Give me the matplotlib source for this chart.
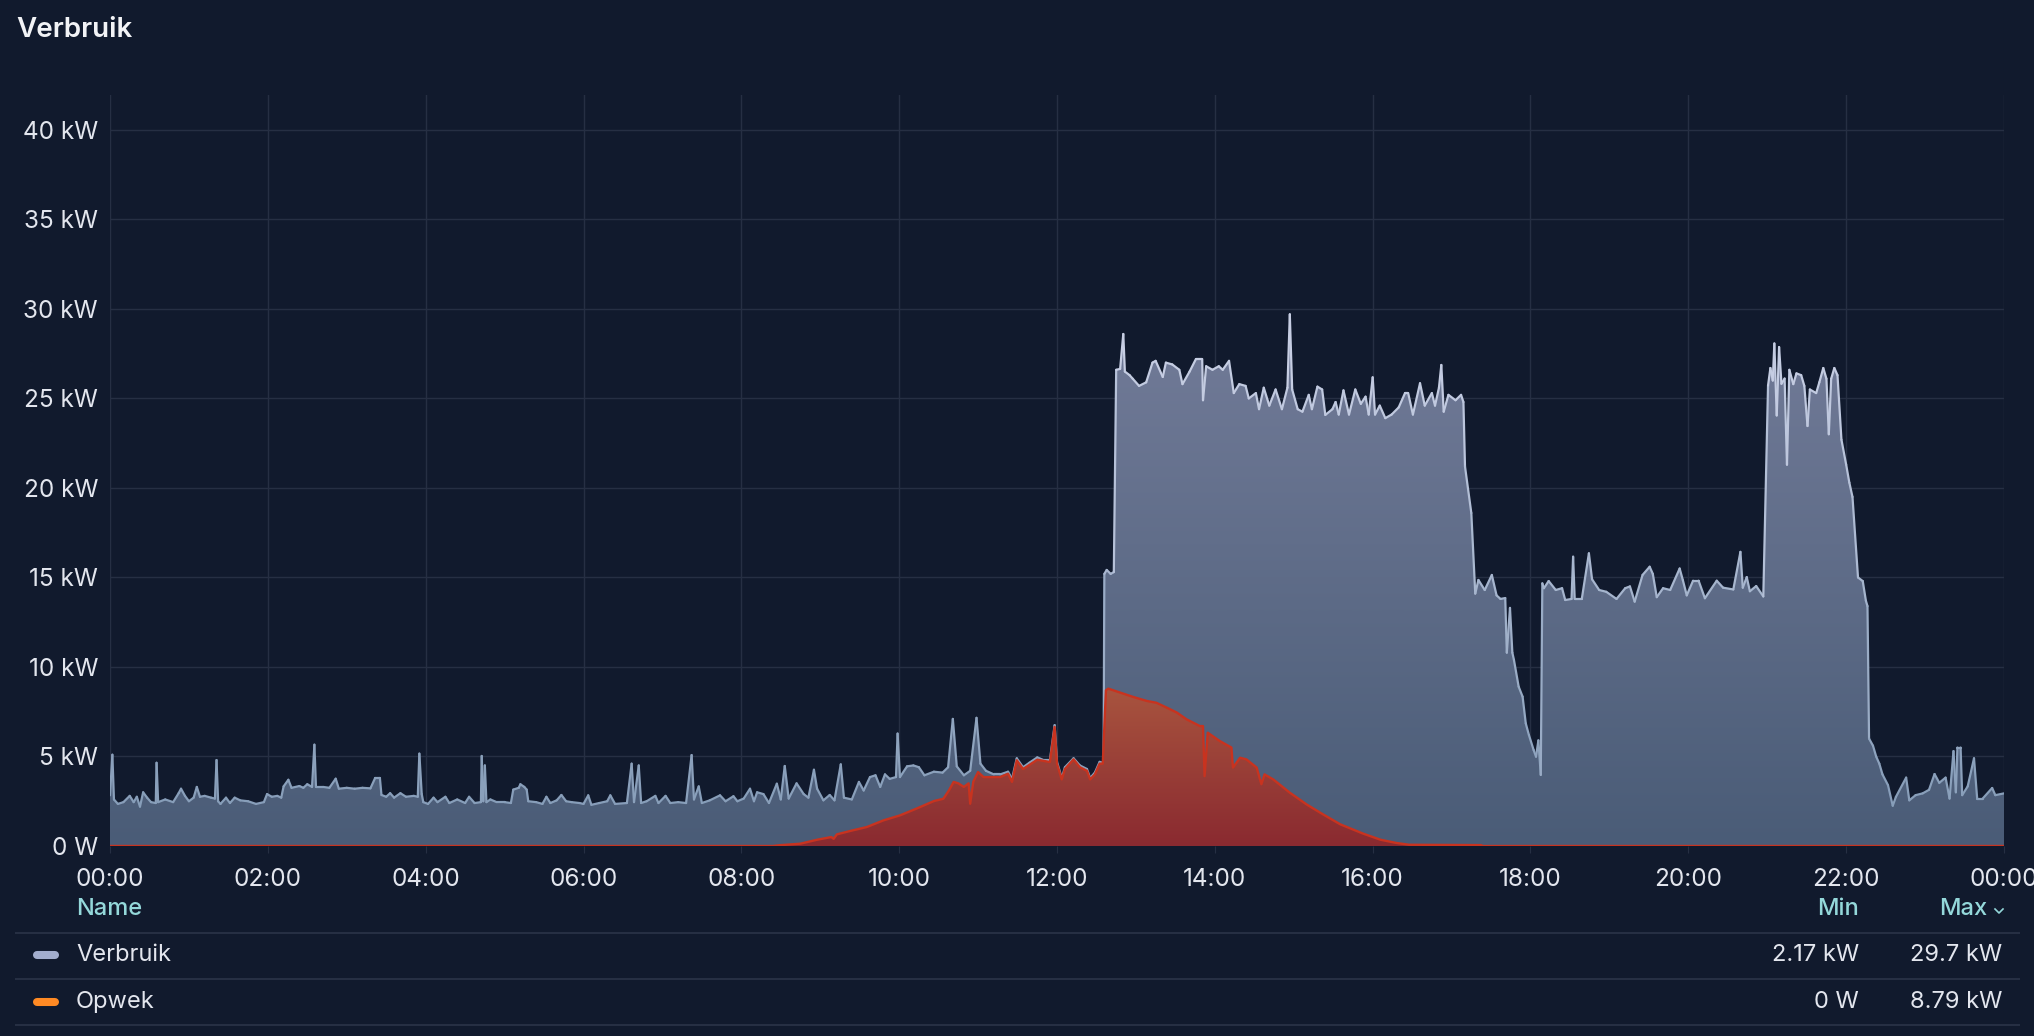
# -*- coding: utf-8 -*-
# Verbruik / Opwek dagverloop (Grafana-achtige weergave)

import numpy as np
import matplotlib
matplotlib.use('Agg')
import matplotlib.pyplot as plt
from matplotlib.colors import LinearSegmentedColormap, Normalize
from matplotlib.collections import LineCollection
from matplotlib.lines import Line2D

plt.rcParams['font.family'] = ['Inter', 'DejaVu Sans']

# ---- data (uur van de dag, kW) ----
verbruik_t = [
    0.00, 0.03, 0.05, 0.10, 0.17, 0.25, 0.30, 0.34, 0.38, 0.42, 0.47, 0.52, 0.58, 0.59, 0.61, 0.70,
    0.80, 0.87, 0.90, 0.95, 1.00, 1.06, 1.10, 1.14, 1.20, 1.28, 1.33, 1.35, 1.37, 1.40, 1.47, 1.52,
    1.58, 1.65, 1.75, 1.85, 1.95, 1.99, 2.05, 2.12, 2.17, 2.20, 2.26, 2.30, 2.40, 2.45, 2.50, 2.56,
    2.59, 2.61, 2.70, 2.78, 2.86, 2.90, 3.00, 3.10, 3.20, 3.30, 3.36, 3.42, 3.44, 3.50, 3.55, 3.60,
    3.68, 3.75, 3.85, 3.90, 3.92, 3.95, 3.97, 4.03, 4.10, 4.15, 4.25, 4.30, 4.40, 4.50, 4.55, 4.62,
    4.70, 4.71, 4.73, 4.75, 4.77, 4.82, 4.90, 5.00, 5.08, 5.11, 5.18, 5.20, 5.25, 5.28, 5.30, 5.40,
    5.48, 5.53, 5.58, 5.66, 5.72, 5.78, 5.85, 5.95, 6.00, 6.06, 6.10, 6.20, 6.30, 6.34, 6.40, 6.55,
    6.61, 6.64, 6.70, 6.73, 6.80, 6.91, 6.95, 7.04, 7.10, 7.20, 7.30, 7.37, 7.40, 7.46, 7.50, 7.60,
    7.73, 7.80, 7.90, 7.95, 8.03, 8.11, 8.16, 8.20, 8.28, 8.35, 8.45, 8.50, 8.55, 8.60, 8.70, 8.79,
    8.85, 8.92, 8.96, 9.04, 9.12, 9.18, 9.26, 9.30, 9.40, 9.49, 9.55, 9.63, 9.70, 9.76, 9.82, 9.88,
    9.96, 9.98, 10.01, 10.10, 10.18, 10.25, 10.32, 10.44, 10.55, 10.62, 10.68, 10.73, 10.82, 10.90,
    10.98, 11.03, 11.10, 11.20, 11.28, 11.38, 11.43, 11.49, 11.57, 11.65, 11.75, 11.83, 11.91, 11.97,
    12.00, 12.06, 12.10, 12.21, 12.29, 12.38, 12.42, 12.48, 12.54, 12.59, 12.60, 12.63, 12.68, 12.72,
    12.75, 12.80, 12.84, 12.86, 12.92, 12.96, 13.04, 13.13, 13.21, 13.25, 13.34, 13.38, 13.46, 13.55,
    13.59, 13.68, 13.76, 13.84, 13.85, 13.89, 13.97, 14.05, 14.10, 14.18, 14.24, 14.31, 14.39, 14.43,
    14.52, 14.56, 14.62, 14.69, 14.77, 14.85, 14.92, 14.95, 14.98, 15.05, 15.11, 15.19, 15.23, 15.30,
    15.36, 15.40, 15.49, 15.53, 15.57, 15.63, 15.70, 15.78, 15.85, 15.91, 15.95, 16.00, 16.03, 16.09,
    16.16, 16.24, 16.33, 16.41, 16.45, 16.51, 16.60, 16.66, 16.75, 16.79, 16.84, 16.87, 16.90, 16.96,
    17.05, 17.12, 17.15, 17.17, 17.25, 17.30, 17.34, 17.42, 17.51, 17.57, 17.62, 17.68, 17.70, 17.74,
    17.77, 17.79, 17.85, 17.90, 17.94, 17.98, 18.04, 18.07, 18.10, 18.13, 18.15, 18.17, 18.23, 18.32,
    18.40, 18.44, 18.52, 18.54, 18.56, 18.65, 18.74, 18.78, 18.87, 18.96, 19.09, 19.20, 19.26, 19.32,
    19.42, 19.51, 19.55, 19.60, 19.68, 19.77, 19.89, 19.93, 19.98, 20.06, 20.13, 20.21, 20.36, 20.44,
    20.57, 20.66, 20.69, 20.74, 20.78, 20.86, 20.95, 21.01, 21.04, 21.07, 21.09, 21.12, 21.15, 21.18,
    21.22, 21.25, 21.28, 21.33, 21.37, 21.43, 21.47, 21.51, 21.54, 21.62, 21.66, 21.71, 21.75, 21.78,
    21.81, 21.85, 21.89, 21.94, 22.00, 22.04, 22.08, 22.15, 22.21, 22.25, 22.27, 22.29, 22.34, 22.38,
    22.42, 22.46, 22.53, 22.59, 22.63, 22.76, 22.80, 22.88, 22.97, 23.05, 23.12, 23.18, 23.26, 23.31,
    23.36, 23.39, 23.41, 23.45, 23.47, 23.54, 23.62, 23.66, 23.73, 23.85, 23.89, 24.00,
]
verbruik_kw = [
    2.83, 5.10, 2.60, 2.35, 2.45, 2.80, 2.45, 2.75, 2.20, 3.00, 2.70, 2.45, 2.40, 4.65, 2.45, 2.60,
    2.45, 2.95, 3.20, 2.80, 2.50, 2.70, 3.30, 2.75, 2.80, 2.70, 2.65, 4.80, 2.50, 2.35, 2.70, 2.40,
    2.70, 2.55, 2.50, 2.35, 2.45, 2.90, 2.75, 2.80, 2.70, 3.33, 3.70, 3.25, 3.35, 3.25, 3.45, 3.30,
    5.66, 3.30, 3.30, 3.25, 3.76, 3.20, 3.25, 3.20, 3.25, 3.22, 3.80, 3.80, 2.85, 2.75, 2.95, 2.70,
    2.95, 2.75, 2.80, 2.75, 5.16, 2.90, 2.45, 2.35, 2.70, 2.45, 2.75, 2.40, 2.60, 2.40, 2.75, 2.40,
    2.45, 5.03, 2.50, 4.50, 2.45, 2.60, 2.45, 2.45, 2.40, 3.15, 3.25, 3.45, 3.30, 3.15, 2.50, 2.45,
    2.35, 2.75, 2.40, 2.55, 2.85, 2.50, 2.45, 2.40, 2.35, 2.83, 2.30, 2.40, 2.50, 2.83, 2.35, 2.40,
    4.60, 2.45, 4.50, 2.40, 2.50, 2.80, 2.40, 2.80, 2.40, 2.45, 2.40, 5.08, 2.60, 3.33, 2.40, 2.55,
    2.83, 2.50, 2.78, 2.50, 2.65, 3.20, 2.50, 3.00, 2.90, 2.40, 3.48, 2.60, 4.47, 2.65, 3.50, 2.90,
    2.70, 4.26, 3.20, 2.55, 2.85, 2.55, 4.56, 2.70, 2.60, 3.58, 3.10, 3.85, 3.95, 3.30, 4.00, 3.75,
    3.85, 6.28, 3.85, 4.45, 4.50, 4.40, 3.95, 4.15, 4.10, 4.40, 7.10, 4.45, 3.95, 4.20,
    7.16, 4.60, 4.20, 4.00, 4.00, 4.15, 3.75, 4.90, 4.40, 4.65, 4.95, 4.80, 4.80, 6.75,
    4.70, 3.80, 4.40, 4.90, 4.50, 4.30, 3.80, 4.10, 4.70, 4.65, 15.20, 15.42, 15.20, 15.30,
    26.60, 26.65, 28.60, 26.50, 26.30, 26.10, 25.70, 25.90, 27.00, 27.10, 26.20, 27.00, 26.90, 26.60,
    25.80, 26.50, 27.20, 27.20, 24.90, 26.80, 26.60, 26.80, 26.60, 27.10, 25.30, 25.80, 25.70, 25.00,
    25.30, 24.40, 25.60, 24.60, 25.50, 24.40, 25.60, 29.70, 25.50, 24.40, 24.26, 25.20, 24.40, 25.66,
    25.50, 24.08, 24.40, 24.80, 24.10, 25.45, 24.10, 25.50, 24.70, 25.10, 24.10, 26.18, 24.10, 24.60,
    23.90, 24.10, 24.50, 25.30, 25.30, 24.10, 25.85, 24.60, 25.30, 24.60, 25.60, 26.87, 24.26, 25.20,
    24.90, 25.20, 24.80, 21.20, 18.60, 14.10, 14.86, 14.30, 15.14, 14.00, 13.80, 13.85, 10.80, 13.30,
    10.80, 10.40, 8.90, 8.34, 6.85, 6.20, 5.36, 4.99, 5.90, 3.97, 14.67, 14.40, 14.80, 14.30,
    14.40, 13.74, 13.80, 16.16, 13.80, 13.80, 16.35, 14.90, 14.30, 14.20, 13.80, 14.40, 14.50, 13.65,
    15.14, 15.60, 15.20, 13.90, 14.40, 14.30, 15.50, 14.86, 14.00, 14.82, 14.82, 13.84, 14.82, 14.43,
    14.33, 16.43, 14.43, 15.02, 14.23, 14.52, 13.94, 25.72, 26.70, 26.00, 28.07, 24.05, 27.87, 25.82,
    26.11, 21.30, 26.60, 25.80, 26.40, 26.30, 25.70, 23.46, 25.50, 25.30, 25.90, 26.70, 26.10, 23.00,
    26.10, 26.70, 26.30, 22.70, 21.30, 20.30, 19.50, 15.00, 14.80, 13.70, 13.40, 6.00, 5.60, 5.00,
    4.60, 4.00, 3.40, 2.25, 2.74, 3.82, 2.55, 2.84, 2.94, 3.14, 4.02, 3.53, 3.82, 2.65,
    5.30, 3.00, 5.50, 5.50, 2.84, 3.33, 4.90, 2.65, 2.65, 3.24, 2.84, 2.94,
]

opwek_t = [
    0.00, 8.40, 8.50, 8.60, 8.75, 8.96, 9.14, 9.17, 9.21, 9.38, 9.59, 9.80, 10.01, 10.22, 10.44,
    10.56, 10.63, 10.69, 10.75, 10.82, 10.88, 10.90, 10.94, 11.00, 11.07, 11.28, 11.38, 11.43, 11.49,
    11.57, 11.75, 11.91, 11.97, 12.00, 12.06, 12.10, 12.21, 12.29, 12.38, 12.42, 12.48, 12.54, 12.58,
    12.62, 12.65, 12.80, 12.97, 13.14, 13.26, 13.39, 13.52, 13.64, 13.81, 13.85, 13.87, 13.91, 14.06,
    14.21, 14.23, 14.32, 14.40, 14.53, 14.59, 14.63, 14.74, 14.95, 15.16, 15.37, 15.59, 15.88, 16.10,
    16.30, 16.46, 17.37, 17.40, 24.00,
]
opwek_kw = [
    0.00, 0.00, 0.05, 0.08, 0.13, 0.35, 0.50, 0.40, 0.65, 0.84, 1.06, 1.43, 1.71, 2.09, 2.51,
    2.64, 3.10, 3.58, 3.50, 3.30, 3.50, 2.36, 3.60, 4.13, 3.85, 3.85, 4.04, 3.58, 4.79,
    4.30, 4.82, 4.69, 6.65, 4.60, 3.72, 4.30, 4.84, 4.40, 4.20, 3.72, 4.00, 4.60, 4.60,
    8.70, 8.79, 8.57, 8.32, 8.10, 8.00, 7.73, 7.45, 7.08, 6.70, 6.70, 3.90, 6.33, 5.87,
    5.50, 4.38, 4.93, 4.84, 4.38, 3.45, 4.00, 3.72, 2.98, 2.33, 1.77, 1.21, 0.69, 0.35,
    0.17, 0.07, 0.05, 0.00, 0.00,
]

y_ticks = [0, 5, 10, 15, 20, 25, 30, 35, 40]
x_ticks = list(range(0, 25, 2))
x_labels = ['%02d:00' % (h % 24) for h in x_ticks]

legend_names = ['Verbruik', 'Opwek']
legend_min = ['2.17 kW', '0 W']
legend_max = ['29.7 kW', '8.79 kW']

# ---- kleuren ----
BG = '#111a2d'
GRID = '#262f43'
TXT = '#e3e6ee'
HEAD = '#94d8da'

W, H = 2034, 1036
fig = plt.figure(figsize=(W / 100, H / 100), dpi=100, facecolor=BG)


def px(x, y):
    return x / W, 1 - y / H


ax = fig.add_axes([110 / W, 1 - 846 / H, (2004 - 110) / W, (846 - 95) / H])
ax.set_facecolor(BG)
for s in ax.spines.values():
    s.set_visible(False)


def gradient_fill(t, v, c_bottom, c_top, ytop, z):
    poly = ax.fill_between(t, v, 0, color='none', lw=0)
    path = poly.get_paths()[0]
    cmap = LinearSegmentedColormap.from_list('g', [c_bottom, c_top])
    grad = np.linspace(0, 1, 256).reshape(-1, 1)
    im = ax.imshow(grad, cmap=cmap, origin='lower', aspect='auto',
                   extent=[t[0], t[-1], 0, ytop], zorder=z, interpolation='bilinear')
    im.set_clip_path(path, transform=ax.transData)


vt = np.array(verbruik_t)
vv = np.array(verbruik_kw)
ot = np.array(opwek_t)
ov = np.array(opwek_kw)

# verbruik: vlak + lijn met kleurverloop naar boven
gradient_fill(vt, vv, '#4a5c77', '#737c99', 30, 2)
pts = np.column_stack([vt, vv]).reshape(-1, 1, 2)
segs = np.concatenate([pts[:-1], pts[1:]], axis=1)
lc = LineCollection(segs, cmap=LinearSegmentedColormap.from_list('l', ['#8199b5', '#c8cfe4']),
                    norm=Normalize(0, 28), linewidths=1.6, zorder=3, capstyle='round', joinstyle='round')
lc.set_array((vv[:-1] + vv[1:]) / 2)
ax.add_collection(lc)

# opwek: rood vlak + lijn
gradient_fill(ot, ov, '#8a2a30', '#a9553f', 9, 4)
ax.plot(ot, ov, color='#c8331f', lw=1.7, zorder=5, solid_joinstyle='round')

ax.set_xlim(0, 24)
ax.set_ylim(0, 41.95)

ax.set_yticks(y_ticks)
ax.set_yticklabels(['0 W' if v == 0 else '%d kW' % v for v in y_ticks])
ax.set_xticks(x_ticks)
ax.set_xticklabels(x_labels)
ax.grid(True, color=GRID, lw=1.0, zorder=1)
ax.set_axisbelow(True)
ax.tick_params(axis='y', length=0, pad=8.6, labelsize=17.5, labelcolor=TXT)
ax.tick_params(axis='x', length=5, width=0.8, color=GRID, pad=11, labelsize=17.5, labelcolor=TXT)

# titel
fig.text(*px(16, 30), 'Verbruik', fontsize=20, fontweight='semibold', color='#f2f3f6',
         ha='left', va='center')

# legenda-tabel
fig.text(*px(76, 909), 'Name', fontsize=17, fontweight='medium', color=HEAD, ha='left', va='center')
fig.text(*px(1859, 909), 'Min', fontsize=17, fontweight='medium', color=HEAD, ha='right', va='center')
fig.text(*px(1987, 909), 'Max', fontsize=17, fontweight='medium', color=HEAD, ha='right', va='center')
cx, cy = 1999, 911
fig.add_artist(Line2D([px(cx - 4, 0)[0], px(cx, 0)[0], px(cx + 4, 0)[0]],
                      [px(0, cy - 2)[1], px(0, cy + 2)[1], px(0, cy - 2)[1]],
                      color=HEAD, lw=1.2, transform=fig.transFigure))

for yy in [933, 979, 1025]:
    fig.add_artist(Line2D([px(16, 0)[0], px(2019, 0)[0]], [px(0, yy)[1]] * 2,
                          color=GRID, lw=1.5, transform=fig.transFigure))

swatch = ['#a3aece', '#ff8a24']
rows = [955, 1002]
for name, mn, mx, c, yy in zip(legend_names, legend_min, legend_max, swatch, rows):
    fig.add_artist(Line2D([px(37, 0)[0], px(55, 0)[0]], [px(0, yy)[1]] * 2, color=c,
                          lw=5.8, solid_capstyle='round', transform=fig.transFigure))
    fig.text(*px(76, yy), name, fontsize=17, color=TXT, ha='left', va='center')
    fig.text(*px(1859, yy), mn, fontsize=17, color=TXT, ha='right', va='center')
    fig.text(*px(2002, yy), mx, fontsize=17, color=TXT, ha='right', va='center')

fig.savefig('out.png', dpi=100, facecolor=BG)
